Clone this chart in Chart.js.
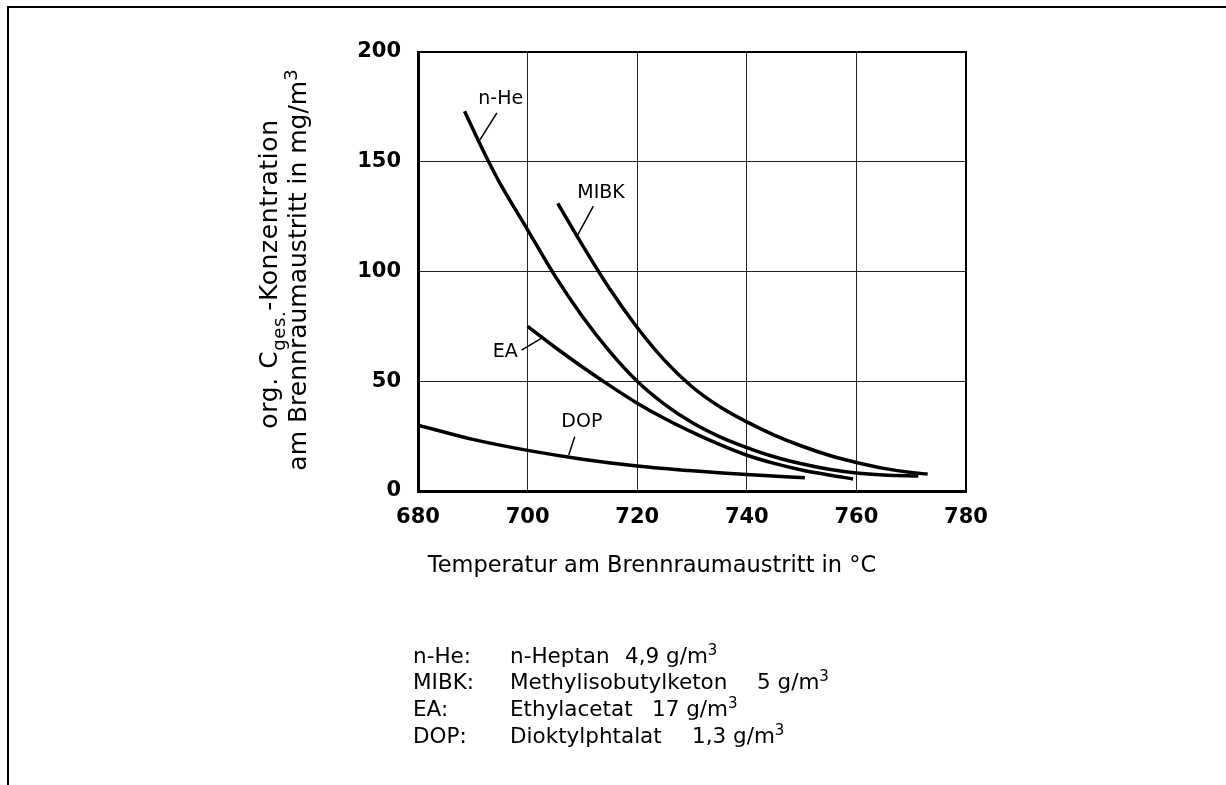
<!DOCTYPE html>
<html>
<head>
<meta charset="utf-8">
<script src="https://cdn.jsdelivr.net/npm/chart.js@4.4.1/dist/chart.umd.min.js"></script>
<style>
  html, body { margin: 0; padding: 0; background: #fff; }
  canvas { display: block; }
</style>
</head>
<body>
<canvas id="chart" width="1226" height="785"></canvas>
<script>
// --- DATA ---
const xTicks = [680, 700, 720, 740, 760, 780];
const yTicks = [0, 50, 100, 150, 200];

const nHeX = [688.5, 690, 692.7, 695, 700, 705, 710, 715, 720, 725, 730, 735, 740, 745, 750, 755, 760, 765, 771.3];
const nHeY = [173, 165, 151, 140, 119, 98, 79.5, 63.5, 50, 39.5, 31.2, 24.8, 19.8, 15.6, 12.4, 9.9, 8.2, 7.3, 6.8];

const mibkX = [705.5, 710, 715, 720, 725, 730, 735, 740, 745, 750, 755, 760, 765, 770, 773];
const mibkY = [131, 112, 92, 74.5, 59.5, 47.5, 38.5, 31.5, 25.5, 20.5, 16.3, 13, 10.3, 8.4, 7.7];

const eaX = [700, 705, 710, 715, 720, 725, 730, 735, 740, 745, 750, 755, 759.4];
const eaY = [75, 65.5, 56.5, 48, 40, 33, 26.8, 21.2, 16.3, 12.6, 9.6, 7.3, 5.5];

const dopX = [680, 690, 700, 710, 720, 730, 740, 750.6];
const dopY = [30, 23.5, 18.5, 14.5, 11.4, 9.2, 7.5, 6];

const seriesNames = ['n-He', 'MIBK', 'EA', 'DOP'];
const legendKeys = ['n-He:', 'MIBK:', 'EA:', 'DOP:'];
const legendNames = ['n-Heptan', 'Methylisobutylketon', 'Ethylacetat', 'Dioktylphtalat'];
const legendAmounts = ['4,9', '5', '17', '1,3'];

// curve labels with leader lines, in data units
const curveLabels = [
  { text: 'n-He', at: [695.1, 178.6], from: [694.4, 172.3], to: [691.3, 160] },
  { text: 'MIBK', at: [713.4, 135.8], from: [712.0, 129.8], to: [709.1, 116.5] },
  { text: 'EA',   at: [695.9, 63.3],  from: [698.9, 64.2],  to: [702.8, 70] },
  { text: 'DOP',  at: [709.9, 31.2],  from: [708.6, 24.7],  to: [707.5, 16.4] }
];

const FONT = '"DejaVu Sans", "Liberation Sans", sans-serif';

const zip = (xs, ys) => xs.map((x, i) => ({ x: x, y: ys[i] }));
const mkSet = (label, xs, ys) => ({
  label: label,
  data: zip(xs, ys),
  borderColor: '#000',
  borderWidth: 3.5,
  pointRadius: 0,
  fill: false,
  cubicInterpolationMode: 'monotone',
  borderCapStyle: 'butt'
});

// text with a sub/superscript piece: parts = [[text, kind]]
function drawParts(ctx, parts, x, y, size, align, spacing) {
  const big = size + 'px ' + FONT;
  const small = Math.round(size * 0.72) + 'px ' + FONT;
  ctx.letterSpacing = (spacing || 0) + 'px';
  let w = 0;
  parts.forEach(p => { ctx.font = p[1] ? small : big; w += ctx.measureText(p[0]).width; });
  let cx = align === 'center' ? x - w / 2 : x;
  ctx.textAlign = 'left';
  ctx.textBaseline = 'alphabetic';
  parts.forEach(p => {
    ctx.font = p[1] ? small : big;
    let dy = 0;
    if (p[1] === 'sub') dy = size * 0.3;
    if (p[1] === 'sup') dy = -size * 0.38;
    ctx.fillText(p[0], cx, y + dy);
    cx += ctx.measureText(p[0]).width;
  });
  ctx.letterSpacing = '0px';
}

const decorations = {
  id: 'decorations',
  afterDraw(chart) {
    const ctx = chart.ctx;
    const a = chart.chartArea;
    const xs = chart.scales.x, ys = chart.scales.y;
    ctx.save();
    ctx.fillStyle = '#000';
    ctx.strokeStyle = '#000';

    // page frame (top and left)
    ctx.lineWidth = 2;
    ctx.beginPath();
    ctx.moveTo(8, 785);
    ctx.lineTo(8, 7);
    ctx.lineTo(1226, 7);
    ctx.stroke();

    // plot box
    ctx.lineWidth = 2;
    ctx.strokeRect(a.left, a.top, a.right - a.left, a.bottom - a.top);

    // curve labels + leaders
    ctx.lineWidth = 1.5;
    curveLabels.forEach(l => {
      ctx.beginPath();
      ctx.moveTo(xs.getPixelForValue(l.from[0]), ys.getPixelForValue(l.from[1]));
      ctx.lineTo(xs.getPixelForValue(l.to[0]), ys.getPixelForValue(l.to[1]));
      ctx.stroke();
      ctx.font = '19px ' + FONT;
      ctx.textAlign = 'center';
      ctx.textBaseline = 'middle';
      ctx.fillText(l.text, xs.getPixelForValue(l.at[0]), ys.getPixelForValue(l.at[1]));
    });

    // x title
    drawParts(ctx, [['Temperatur am Brennraumaustritt in °C']], 652, 572, 22.5, 'center');

    // y title (rotated, two lines)
    ctx.save();
    ctx.translate(277, 274);
    ctx.rotate(-Math.PI / 2);
    drawParts(ctx, [['org. C'], ['ges.', 'sub'], ['-Konzentration']], 0, 0, 25, 'center', 0.6);
    ctx.restore();
    ctx.save();
    ctx.translate(306, 270);
    ctx.rotate(-Math.PI / 2);
    drawParts(ctx, [['am Brennraumaustritt in mg/m'], ['3', 'sup']], 0, 0, 25, 'center');
    ctx.restore();

    // legend block
    const rowY = [663, 689, 716, 743];
    const amtX = [625, 757, 652, 692];
    legendKeys.forEach((k, i) => {
      drawParts(ctx, [[k]], 413, rowY[i], 21.5, 'left');
      drawParts(ctx, [[legendNames[i]]], 510, rowY[i], 21.5, 'left');
      drawParts(ctx, [[legendAmounts[i] + ' g/m'], ['3', 'sup']], amtX[i], rowY[i], 21.5, 'left');
    });
    ctx.restore();
  }
};

new Chart(document.getElementById('chart'), {
  type: 'line',
  data: {
    datasets: [
      mkSet(seriesNames[0], nHeX, nHeY),
      mkSet(seriesNames[1], mibkX, mibkY),
      mkSet(seriesNames[2], eaX, eaY),
      mkSet(seriesNames[3], dopX, dopY)
    ]
  },
  options: {
    responsive: false,
    animation: false,
    layout: { padding: { top: 52, right: 260, left: 0, bottom: 0 } },
    plugins: { legend: { display: false }, tooltip: { enabled: false } },
    scales: {
      x: {
        type: 'linear',
        min: 680, max: 780,
        afterBuildTicks: s => { s.ticks = xTicks.map(v => ({ value: v })); },
        afterFit: s => { s.height = 294; },
        grid: { color: '#222', lineWidth: 1, drawTicks: false },
        border: { color: '#000', width: 3 },
        ticks: { color: '#000', padding: 14, maxRotation: 0, font: { family: FONT, size: 21, weight: 'bold' } }
      },
      y: {
        type: 'linear',
        min: 0, max: 200,
        afterBuildTicks: s => { s.ticks = yTicks.map(v => ({ value: v })); },
        afterFit: s => { s.width = 418; },
        grid: { color: '#222', lineWidth: 1, drawTicks: false },
        border: { color: '#000', width: 3 },
        ticks: { color: '#000', padding: 17, font: { family: FONT, size: 21, weight: 'bold' } }
      }
    }
  },
  plugins: [decorations]
});
</script>
</body>
</html>
